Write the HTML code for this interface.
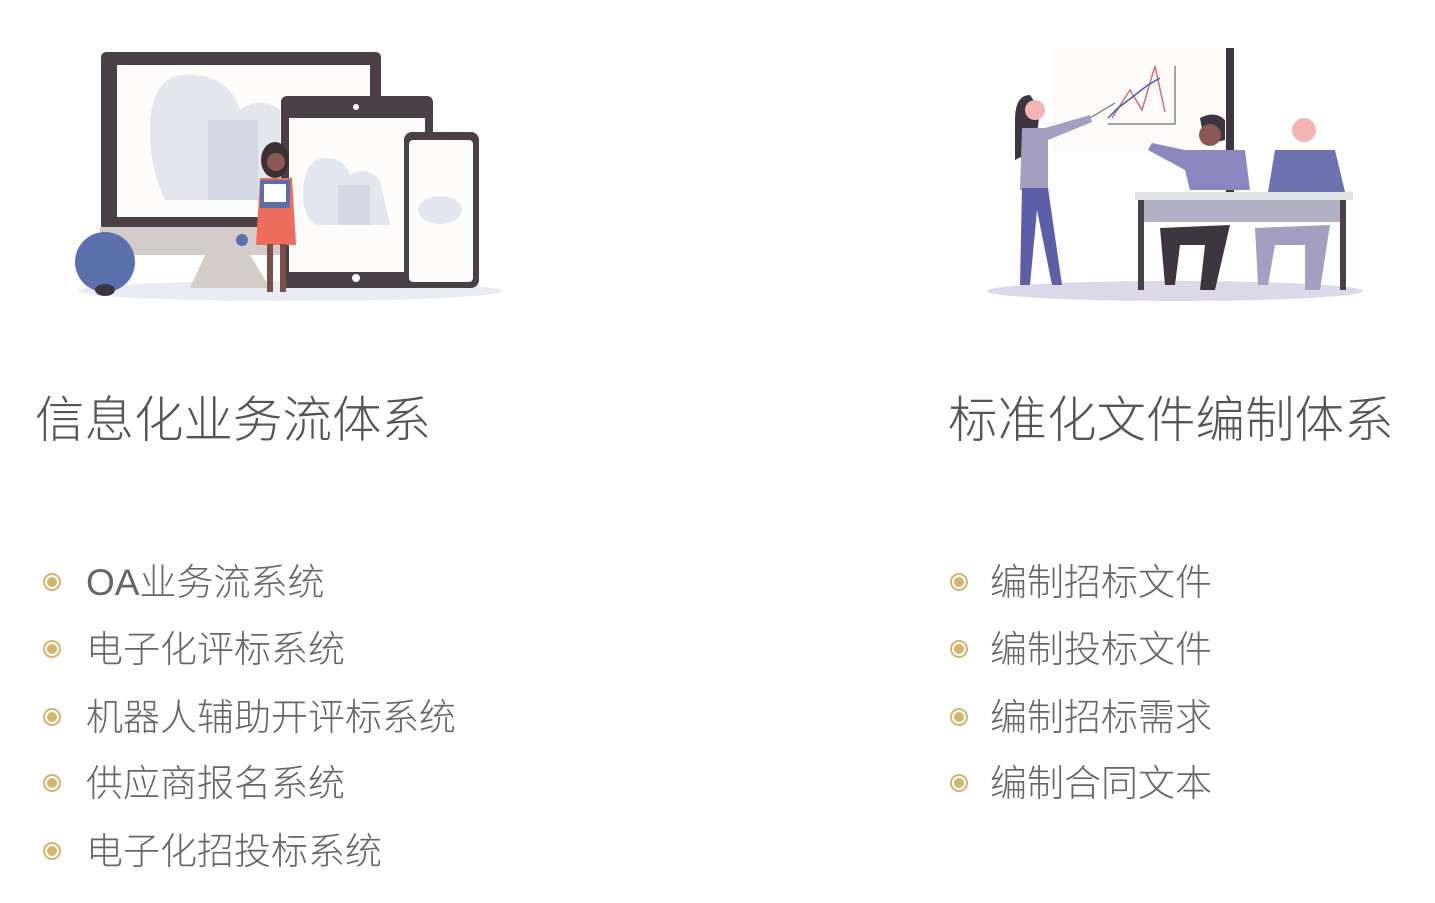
<!DOCTYPE html>
<html><head><meta charset="utf-8"><style>
body{margin:0;width:1435px;height:903px;background:#fff;position:relative;overflow:hidden;font-family:"Liberation Sans","Noto Sans CJK SC",sans-serif;color:#5a5a5a}
.t{position:absolute;font-size:49.5px;line-height:1;white-space:nowrap;color:#555;font-weight:300}
.i{position:absolute;font-size:37px;line-height:1;white-space:nowrap;color:#666;font-weight:300}
.b{position:absolute;width:10px;height:10px;border-radius:50%;background:#d5b56e;border:2.5px solid #fff;box-shadow:0 0 0 2px #d5b56e}
svg{position:absolute;left:0;top:0}
</style></head><body>
<svg width="1435" height="320" viewBox="0 0 1435 320">
<ellipse cx="290" cy="291" rx="212" ry="10" fill="#e9ebf3"/>
<rect x="101" y="52" width="280" height="178" rx="5" fill="#4b3f48"/>
<rect x="117" y="65" width="253" height="152" fill="#fdfcfb"/>
<path d="M150 130 Q150 70 195 75 Q230 78 240 110 Q260 95 280 110 L280 200 L165 200 Q150 170 150 130Z" fill="#e3e6ef"/>
<rect x="208" y="120" width="50" height="80" fill="#d4d8e4"/>
<rect x="100" y="227" width="180" height="28" fill="#d4ccc8"/>
<path d="M205 255 L250 255 L270 288 L190 288Z" fill="#d4ccc8"/>
<circle cx="242" cy="240" r="6" fill="#5b6fad"/>
<rect x="281" y="96" width="152" height="192" rx="6" fill="#4b3f48"/>
<rect x="289" y="118" width="136" height="154" fill="#fdfcfb"/>
<circle cx="356" cy="107" r="3" fill="#fff"/><circle cx="356" cy="278" r="4" fill="#fff"/>
<path d="M303 195 Q303 155 330 158 Q345 160 350 175 Q365 165 380 180 L390 225 L315 225 Q303 215 303 195Z" fill="#e3e6ef"/>
<rect x="338" y="185" width="32" height="40" fill="#d4d8e4"/>
<rect x="404" y="132" width="75" height="156" rx="8" fill="#4b3f48"/>
<rect x="409" y="140" width="64" height="142" rx="4" fill="#fdfcfb"/>
<ellipse cx="440" cy="210" rx="22" ry="14" fill="#e3e6ef"/>
<circle cx="105" cy="262" r="30" fill="#5b6fad"/>
<ellipse cx="105" cy="290" rx="10" ry="6" fill="#3d3640"/>
<ellipse cx="275" cy="160" rx="14" ry="18" fill="#3d3035"/>
<circle cx="276" cy="162" r="9" fill="#8a5a52"/>
<path d="M260 178 L292 178 L296 245 L256 245Z" fill="#ec6d5c"/>
<rect x="260" y="180" width="30" height="28" fill="#5b6fad"/><rect x="264" y="184" width="22" height="18" fill="#fff"/>
<rect x="267" y="244" width="6" height="48" fill="#7a4e4a"/><rect x="280" y="244" width="6" height="48" fill="#7a4e4a"/>
<rect x="1052" y="48" width="178" height="104" fill="#fcfbf9"/>
<rect x="1226" y="48" width="8" height="150" fill="#3d3640"/>
<polyline points="1108,124 1175,124 1175,66" fill="none" stroke="#888" stroke-width="1.5"/>
<polyline points="1112,118 1130,90 1142,110 1155,66 1165,112" fill="none" stroke="#c9707a" stroke-width="1.5"/>
<polyline points="1108,118 1118,108 1135,95 1148,85 1160,78" fill="none" stroke="#4c5aa8" stroke-width="1.5"/>
<line x1="1090" y1="118" x2="1115" y2="103" stroke="#555" stroke-width="1"/>
<ellipse cx="1175" cy="291" rx="188" ry="10" fill="#dcd8e8"/>
<path d="M1030 95 Q1015 95 1015 120 L1015 160 L1035 150 L1040 110Z" fill="#3d3640"/>
<circle cx="1035" cy="110" r="10" fill="#f3b4b4"/>
<path d="M1022 128 L1045 128 L1090 115 L1092 122 L1048 140 L1048 190 L1020 190Z" fill="#a49ec0"/>
<path d="M1022 188 L1048 188 L1062 285 L1052 285 L1037 210 L1030 285 L1020 285Z" fill="#5c5fa8"/>
<path d="M1200 118 Q1215 110 1225 120 L1225 140 L1205 145Z" fill="#3d3640"/>
<circle cx="1210" cy="135" r="11" fill="#8a5a52"/>
<path d="M1185 150 L1245 150 L1250 190 L1190 190 L1185 170 L1148 150 L1152 143Z" fill="#8a88bf"/>
<circle cx="1304" cy="130" r="12" fill="#f3b4b4"/>
<path d="M1275 150 L1335 150 L1345 192 L1268 192Z" fill="#6f72b0"/>
<rect x="1135" y="192" width="218" height="8" fill="#dde2e4"/>
<rect x="1142" y="200" width="202" height="22" fill="#b3b0c4"/>
<rect x="1138" y="200" width="6" height="90" fill="#4b3f48"/><rect x="1340" y="200" width="6" height="90" fill="#4b3f48"/>
<path d="M1160 228 L1230 225 L1215 290 L1200 290 L1205 245 L1180 245 L1175 285 L1165 285Z" fill="#3d3640"/>
<path d="M1255 228 L1330 225 L1320 290 L1305 290 L1305 245 L1275 245 L1268 285 L1258 285Z" fill="#a49ec0"/>
</svg>
<div class="t" style="left:35px;top:396px">信息化业务流体系</div>
<div class="t" style="left:948px;top:396px">标准化文件编制体系</div>
<div class="b" style="left:45px;top:575px"></div><div class="i" style="left:86px;top:564px">OA业务流系统</div>
<div class="b" style="left:45px;top:642px"></div><div class="i" style="left:86px;top:631px">电子化评标系统</div>
<div class="b" style="left:45px;top:710px"></div><div class="i" style="left:86px;top:699px">机器人辅助开评标系统</div>
<div class="b" style="left:45px;top:776px"></div><div class="i" style="left:86px;top:765px">供应商报名系统</div>
<div class="b" style="left:45px;top:844px"></div><div class="i" style="left:86px;top:833px">电子化招投标系统</div>
<div class="b" style="left:952px;top:575px"></div><div class="i" style="left:990px;top:564px">编制招标文件</div>
<div class="b" style="left:952px;top:642px"></div><div class="i" style="left:990px;top:631px">编制投标文件</div>
<div class="b" style="left:952px;top:710px"></div><div class="i" style="left:990px;top:699px">编制招标需求</div>
<div class="b" style="left:952px;top:776px"></div><div class="i" style="left:990px;top:765px">编制合同文本</div>
</body></html>
